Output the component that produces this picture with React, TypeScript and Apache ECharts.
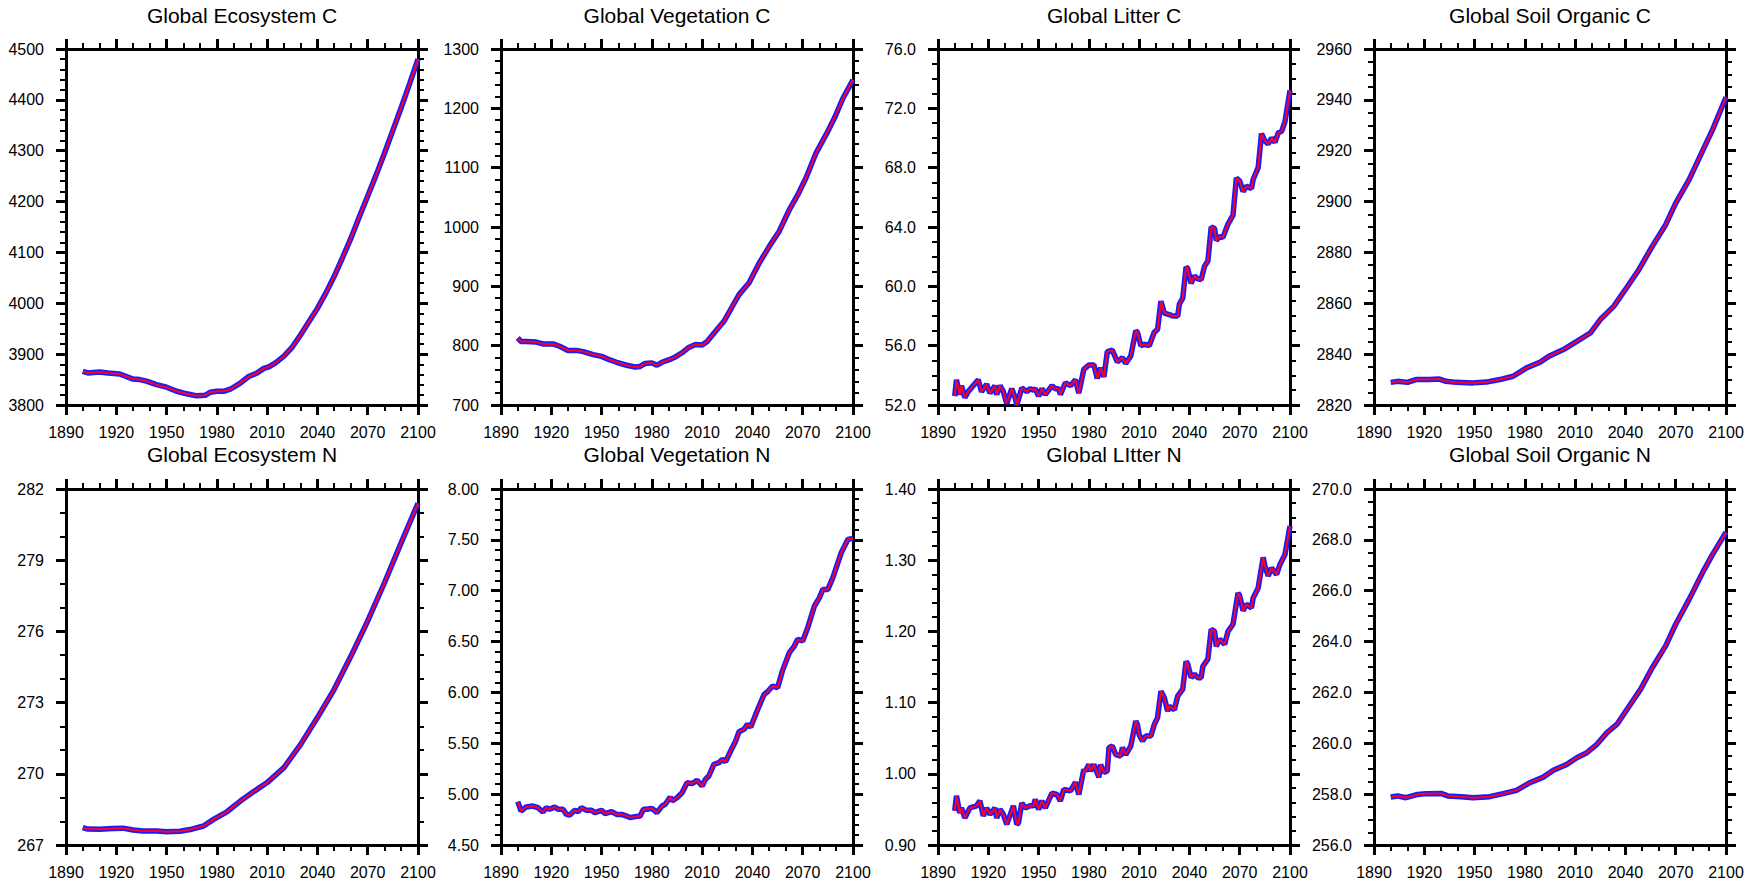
import React, { useEffect, useRef } from "react";
import * as echarts from "echarts";

// ---------------- data ----------------
const ecoCYears = [1900, 1903, 1910, 1915, 1922, 1926, 1930, 1934, 1938, 1944, 1950, 1956, 1962, 1968, 1973, 1976, 1980, 1984, 1988, 1994, 1999, 2004, 2008, 2011, 2015, 2020, 2025, 2030, 2035, 2040, 2045, 2050, 2055, 2060, 2065, 2070, 2075, 2080, 2085, 2090, 2095, 2100];
const ecoCVals = [3866, 3863, 3865, 3863, 3861, 3856, 3851, 3850, 3847, 3840, 3835, 3827, 3822, 3818, 3819, 3825, 3827, 3827, 3831, 3843, 3856, 3863, 3872, 3875, 3883, 3896, 3914, 3938, 3964, 3990, 4020, 4053, 4090, 4128, 4170, 4211, 4252, 4295, 4340, 4385, 4432, 4480];

const vegCYears = [1900, 1902, 1905, 1911, 1915, 1921, 1925, 1930, 1935, 1939, 1945, 1950, 1955, 1959, 1965, 1970, 1973, 1976, 1980, 1983, 1986, 1990, 1994, 1998, 2002, 2006, 2010, 2013, 2017, 2023, 2028, 2032, 2038, 2044, 2050, 2056, 2062, 2067, 2072, 2078, 2084, 2089, 2094, 2100];
const vegCVals = [813, 807, 807, 806, 803, 803, 799, 792, 792, 790, 785, 782, 776, 772, 767, 764, 765, 770, 771, 767, 772, 776, 781, 788, 797, 802, 801, 807, 821, 841, 866, 886, 906, 939, 967, 993, 1029, 1054, 1083, 1125, 1156, 1184, 1217, 1248];

const litCYears = [1900, 1901, 1903, 1904, 1906, 1908, 1914, 1916, 1919, 1921, 1924, 1925, 1927, 1929, 1931, 1934, 1936, 1937, 1940, 1943, 1945, 1947, 1948, 1950, 1952, 1954, 1958, 1960, 1962, 1963, 1966, 1969, 1972, 1974, 1977, 1980, 1983, 1985, 1987, 1989, 1991, 1994, 1997, 2000, 2002, 2005, 2008, 2009, 2011, 2013, 2016, 2019, 2021, 2023, 2025, 2028, 2030, 2033, 2034, 2036, 2038, 2039, 2041, 2043, 2045, 2047, 2049, 2051, 2053, 2055, 2056, 2058, 2060, 2063, 2066, 2068, 2070, 2072, 2074, 2077, 2078, 2081, 2083, 2085, 2087, 2089, 2091, 2093, 2095, 2097, 2100];
const litCVals = [52.6, 53.7, 52.7, 53.3, 52.5, 52.9, 53.7, 52.9, 53.4, 52.8, 53.3, 52.7, 53.3, 52.9, 52.1, 53.1, 52.5, 52.0, 53.15, 52.9, 53.1, 53.0, 53.1, 52.6, 53.1, 52.7, 53.3, 53.1, 53.1, 52.7, 53.5, 53.3, 53.7, 52.8, 54.4, 54.7, 54.7, 53.8, 54.5, 53.9, 55.6, 55.7, 54.9, 55.2, 54.8, 55.3, 57.0, 56.9, 56.0, 56.1, 56.0, 56.9, 57.1, 59.0, 58.2, 58.1, 58.0, 58.0, 58.8, 59.2, 61.3, 61.2, 60.2, 60.7, 60.5, 60.45, 61.35, 61.7, 64.0, 63.9, 63.1, 63.35, 63.3, 64.2, 64.8, 67.3, 67.1, 66.4, 66.75, 66.6, 67.2, 68.0, 70.3, 69.8, 69.6, 70.0, 69.7, 70.35, 70.45, 71.1, 73.2];

const soilCYears = [1900, 1904, 1910, 1915, 1923, 1929, 1933, 1939, 1949, 1957, 1965, 1973, 1981, 1989, 1995, 2003, 2011, 2019, 2025, 2033, 2041, 2048, 2056, 2064, 2070, 2078, 2084, 2092, 2100];
const soilCVals = [2828.9, 2829.3, 2828.9, 2830.0, 2830.0, 2830.2, 2829.3, 2828.9, 2828.7, 2829.0, 2830.0, 2831.3, 2834.6, 2836.8, 2839.4, 2841.8, 2845.0, 2848.3, 2853.6, 2858.8, 2866.4, 2873.2, 2882.4, 2890.9, 2899.4, 2908.6, 2917.1, 2928.3, 2941.0];

const ecoNYears = [1900, 1903, 1910, 1918, 1924, 1930, 1936, 1944, 1950, 1958, 1964, 1972, 1978, 1986, 1994, 2002, 2010, 2020, 2030, 2040, 2050, 2060, 2070, 2080, 2090, 2100];
const ecoNVals = [267.73, 267.67, 267.66, 267.70, 267.71, 267.63, 267.59, 267.59, 267.56, 267.58, 267.65, 267.80, 268.08, 268.40, 268.85, 269.25, 269.63, 270.26, 271.24, 272.37, 273.56, 274.96, 276.44, 278.05, 279.74, 281.40];

const vegNYears = [1900, 1902, 1905, 1909, 1912, 1915, 1917, 1919, 1922, 1924, 1927, 1929, 1931, 1934, 1936, 1938, 1941, 1944, 1946, 1950, 1952, 1956, 1959, 1962, 1965, 1967, 1970, 1973, 1975, 1977, 1980, 1982, 1983, 1986, 1988, 1991, 1992, 1995, 1998, 2001, 2004, 2007, 2010, 2012, 2014, 2017, 2020, 2022, 2024, 2027, 2030, 2032, 2035, 2037, 2039, 2042, 2044, 2047, 2049, 2052, 2055, 2058, 2062, 2065, 2067, 2070, 2073, 2077, 2080, 2082, 2085, 2088, 2090, 2093, 2095, 2097, 2100];
const vegNVals = [4.926, 4.834, 4.874, 4.883, 4.867, 4.824, 4.867, 4.851, 4.874, 4.851, 4.851, 4.801, 4.795, 4.841, 4.828, 4.867, 4.841, 4.841, 4.818, 4.841, 4.808, 4.828, 4.801, 4.801, 4.785, 4.769, 4.779, 4.785, 4.851, 4.851, 4.860, 4.834, 4.818, 4.883, 4.900, 4.972, 4.933, 4.965, 5.014, 5.113, 5.103, 5.136, 5.080, 5.146, 5.178, 5.293, 5.309, 5.342, 5.319, 5.424, 5.522, 5.614, 5.637, 5.686, 5.660, 5.785, 5.866, 5.981, 6.007, 6.063, 6.047, 6.217, 6.391, 6.456, 6.522, 6.506, 6.637, 6.850, 6.932, 7.013, 7.013, 7.128, 7.226, 7.374, 7.439, 7.505, 7.515];

const litNYears = [1900, 1901, 1903, 1904, 1906, 1909, 1913, 1915, 1917, 1919, 1921, 1924, 1925, 1927, 1929, 1931, 1935, 1937, 1938, 1940, 1942, 1945, 1947, 1948, 1950, 1952, 1954, 1958, 1961, 1963, 1965, 1969, 1972, 1974, 1977, 1978, 1980, 1981, 1983, 1986, 1987, 1989, 1991, 1992, 1994, 1996, 1999, 2000, 2002, 2005, 2008, 2009, 2010, 2012, 2014, 2017, 2019, 2021, 2023, 2025, 2027, 2028, 2031, 2033, 2036, 2038, 2039, 2041, 2043, 2045, 2047, 2048, 2051, 2053, 2055, 2056, 2058, 2061, 2063, 2066, 2069, 2070, 2072, 2074, 2077, 2078, 2081, 2084, 2085, 2087, 2089, 2092, 2094, 2097, 2100];
const litNVals = [0.948, 0.969, 0.945, 0.952, 0.938, 0.952, 0.955, 0.962, 0.941, 0.952, 0.943, 0.952, 0.938, 0.950, 0.943, 0.929, 0.955, 0.929, 0.931, 0.959, 0.952, 0.955, 0.955, 0.964, 0.950, 0.962, 0.952, 0.973, 0.971, 0.962, 0.978, 0.976, 0.988, 0.971, 1.006, 1.004, 1.013, 1.004, 1.013, 0.995, 1.013, 1.002, 1.004, 1.037, 1.039, 1.027, 1.025, 1.037, 1.027, 1.039, 1.074, 1.069, 1.055, 1.046, 1.053, 1.053, 1.069, 1.079, 1.116, 1.107, 1.088, 1.095, 1.090, 1.109, 1.119, 1.158, 1.154, 1.135, 1.140, 1.135, 1.135, 1.151, 1.161, 1.203, 1.200, 1.179, 1.189, 1.182, 1.200, 1.210, 1.254, 1.250, 1.229, 1.238, 1.233, 1.247, 1.261, 1.304, 1.292, 1.278, 1.289, 1.280, 1.294, 1.308, 1.348];

const soilNYears = [1900, 1904, 1909, 1916, 1921, 1930, 1934, 1942, 1949, 1959, 1967, 1975, 1983, 1991, 1997, 2005, 2011, 2017, 2023, 2029, 2035, 2041, 2049, 2056, 2064, 2070, 2078, 2086, 2092, 2100];
const soilNVals = [257.89, 257.93, 257.86, 257.99, 258.02, 258.03, 257.93, 257.90, 257.86, 257.90, 258.02, 258.15, 258.45, 258.67, 258.94, 259.17, 259.43, 259.63, 259.96, 260.42, 260.75, 261.34, 262.12, 262.97, 263.83, 264.68, 265.66, 266.71, 267.43, 268.30];

const titles = [
  "Global Ecosystem C", "Global Vegetation C", "Global Litter C", "Global Soil Organic C",
  "Global Ecosystem N", "Global Vegetation N", "Global LItter N", "Global Soil Organic N",
];
const yMins = [3800, 700, 52, 2820, 267, 4.5, 0.9, 256];
const yMaxs = [4500, 1300, 76, 2960, 282, 8.0, 1.4, 270];
const yIntervals = [100, 100, 4, 20, 3, 0.5, 0.1, 2];
const yMinorSplits = [5, 5, 4, 4, 3, 5, 5, 4];
const yDecimals = [0, 0, 1, 0, 0, 2, 2, 1];
const xMin = 1890;
const xMax = 2100;
const xInterval = 30;

const panelYears = [ecoCYears, vegCYears, litCYears, soilCYears, ecoNYears, vegNYears, litNYears, soilNYears];
const panelVals = [ecoCVals, vegCVals, litCVals, soilCVals, ecoNVals, vegNVals, litNVals, soilNVals];

// ---------------- layout ----------------
const colLefts = [66, 501, 938, 1374];
const rowTops = [49, 489];
const gridW = 352;
const gridH = 356;
const FONT = "Liberation Sans, Arial, Helvetica, sans-serif";

function buildOption() {
  const grid: any[] = [];
  const xAxis: any[] = [];
  const yAxis: any[] = [];
  const series: any[] = [];
  const title: any[] = [];

  const axisLine = { show: true, onZero: false, lineStyle: { color: "#000", width: 3 } };
  const axisTick = { show: true, inside: false, length: 10, lineStyle: { color: "#000", width: 3 } };
  const minorTickBase = { show: true, length: 6, lineStyle: { color: "#000", width: 2 } };

  for (let i = 0; i < 8; i++) {
    const r = Math.floor(i / 4);
    const c = i % 4;
    const left = colLefts[c];
    const top = rowTops[r];
    grid.push({ left, top, width: gridW, height: gridH, containLabel: false });
    title.push({
      text: titles[i],
      left: left + gridW / 2,
      top: r === 0 ? 5 : 444,
      textAlign: "center",
      padding: 0,
      textStyle: { fontSize: 21, fontWeight: "normal", color: "#000", fontFamily: FONT },
    });

    const xBase = {
      type: "value",
      gridIndex: i,
      min: xMin,
      max: xMax,
      interval: xInterval,
      axisLine,
      axisTick,
      minorTick: { ...minorTickBase, splitNumber: 3 },
      splitLine: { show: false },
      minorSplitLine: { show: false },
    };
    xAxis.push({
      ...xBase,
      position: "bottom",
      axisLabel: {
        show: true,
        fontSize: 16,
        color: "#000",
        margin: 19,
        fontFamily: FONT,
        formatter: (v: number) => String(Math.round(v)),
      },
    });
    xAxis.push({ ...xBase, position: "top", axisLabel: { show: false } });

    const dec = yDecimals[i];
    const yBase = {
      type: "value",
      gridIndex: i,
      min: yMins[i],
      max: yMaxs[i],
      interval: yIntervals[i],
      axisLine,
      axisTick,
      minorTick: { ...minorTickBase, splitNumber: yMinorSplits[i] },
      splitLine: { show: false },
      minorSplitLine: { show: false },
    };
    yAxis.push({
      ...yBase,
      position: "left",
      axisLabel: {
        show: true,
        fontSize: 16,
        color: "#000",
        margin: 22,
        fontFamily: FONT,
        formatter: (v: number) => v.toFixed(dec),
      },
    });
    yAxis.push({ ...yBase, position: "right", axisLabel: { show: false } });

    const data = panelYears[i].map((yr, k) => [yr, panelVals[i][k]]);
    series.push({
      type: "line",
      xAxisIndex: 2 * i,
      yAxisIndex: 2 * i,
      data,
      showSymbol: false,
      symbol: "none",
      lineStyle: { color: "#1a1aff", width: 5.5 },
      z: 2,
    });
    series.push({
      type: "line",
      xAxisIndex: 2 * i,
      yAxisIndex: 2 * i,
      data,
      showSymbol: false,
      symbol: "none",
      lineStyle: { color: "#ff0022", width: 2 },
      z: 3,
    });
  }

  return {
    animation: false,
    backgroundColor: "#ffffff",
    title,
    grid,
    xAxis,
    yAxis,
    series,
  };
}

export default function App() {
  const ref = useRef<HTMLDivElement>(null);
  useEffect(() => {
    if (!ref.current) return;
    const chart = echarts.init(ref.current, undefined, { renderer: "svg" });
    chart.setOption(buildOption() as any);
    return () => chart.dispose();
  }, []);
  return (
    <div
      ref={ref}
      style={{ position: "fixed", left: 0, top: 0, width: 1764, height: 881, background: "#fff" }}
    />
  );
}
